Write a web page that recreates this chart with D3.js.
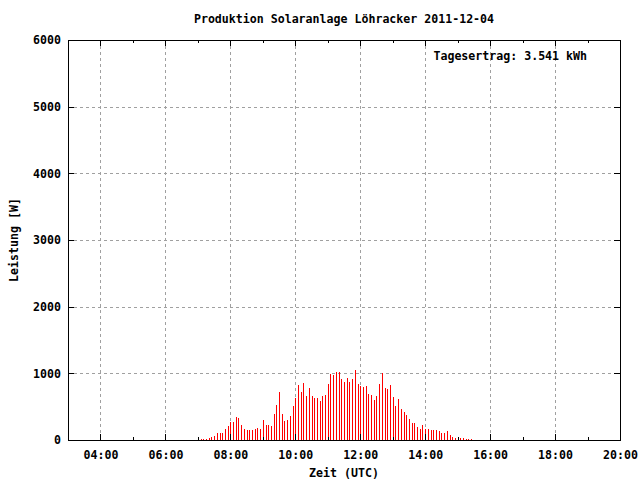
<!DOCTYPE html>
<html><head><meta charset="utf-8">
<script src="https://cdn.jsdelivr.net/npm/d3@7"></script>
<style>body{margin:0;background:#fff}</style>
</head><body>
<script>
// ---------- data ----------
const titleText = "Produktion Solaranlage Löhracker 2011-12-04";
const annotationText = "Tagesertrag: 3.541 kWh";
const xLabelText = "Zeit (UTC)";
const yLabelText = "Leistung [W]";
const day = "2011-12-04";
const firstSample = "07:05";   // time of first 5‑minute sample (UTC)
const stepMinutes = 5;
const power = [
  15, 15, 15, 30, 40, 60, 105, 105, 105, 165,
  210, 270, 270, 345, 330, 225, 165, 150, 150, 150,
  165, 180, 165, 300, 225, 225, 210, 390, 525, 720,
  390, 285, 300, 360, 510, 630, 825, 720, 855, 660,
  780, 660, 630, 630, 585, 660, 675, 840, 990, 975,
  1020, 1020, 915, 870, 930, 870, 915, 1050, 840, 810,
  795, 810, 690, 675, 600, 660, 840, 1005, 780, 765,
  825, 645, 510, 615, 465, 420, 375, 315, 255, 255,
  195, 165, 225, 165, 165, 150, 150, 150, 135, 105,
  105, 135, 75, 45, 30, 30, 30, 30, 15, 15, 15
];
const xDomainHours = ["03:00", "20:00"];
const xMajorTicks = ["04:00","06:00","08:00","10:00","12:00","14:00","16:00","18:00","20:00"];
const xMinorTicks = ["05:00","07:00","09:00","11:00","13:00","15:00","17:00","19:00"];
const yTicks = [0, 1000, 2000, 3000, 4000, 5000, 6000];

// ---------- layout ----------
const W = 640, H = 480;
const L = 68, R = 620, T = 40, B = 440;
const font = "'DejaVu Sans Mono', 'Liberation Mono', monospace";
const fs = 11.6;

const parse = d3.utcParse("%Y-%m-%d %H:%M");
const t = s => parse(day + " " + s);
const t0 = t(firstSample);
const samples = power.map((v, i) => ({ time: d3.utcMinute.offset(t0, i * stepMinutes), value: v }));

const x = d3.scaleUtc().domain(xDomainHours.map(t)).range([L, R]);
const y = d3.scaleLinear().domain([0, 6000]).range([B, T]);

const svg = d3.select("body").append("svg").attr("width", W).attr("height", H)
  .style("font-family", font).style("font-weight", "bold").style("font-size", fs + "px");
svg.append("rect").attr("width", W).attr("height", H).attr("fill", "#fff");

const px = v => Math.round(v) + 0.5;

// grid
const grid = svg.append("g").attr("stroke", "#a0a0a0").attr("stroke-width", 1)
  .attr("stroke-dasharray", "3,3").attr("shape-rendering", "crispEdges");
xMajorTicks.map(t).filter(d => x(d) < R - 1).forEach(d => {
  grid.append("line").attr("x1", px(x(d))).attr("x2", px(x(d))).attr("y1", T).attr("y2", B);
});
yTicks.filter(v => v > 0 && v < 6000).forEach(v => {
  grid.append("line").attr("x1", L).attr("x2", R).attr("y1", px(y(v))).attr("y2", px(y(v)));
});

// impulses
svg.append("g").attr("stroke", "#ff0000").attr("stroke-width", 1).attr("shape-rendering", "crispEdges")
  .selectAll("line").data(samples).join("line")
  .attr("x1", d => px(x(d.time))).attr("x2", d => px(x(d.time)))
  .attr("y1", y(0)).attr("y2", d => Math.round(y(d.value)));

// frame
svg.append("rect").attr("x", L + 0.5).attr("y", T + 0.5).attr("width", R - L).attr("height", B - T)
  .attr("fill", "none").attr("stroke", "#000").attr("shape-rendering", "crispEdges");

// ticks
const tk = svg.append("g").attr("stroke", "#000").attr("shape-rendering", "crispEdges");
const majLen = 6, minLen = 3;
xMajorTicks.map(t).forEach(d => {
  const xx = px(x(d));
  tk.append("line").attr("x1", xx).attr("x2", xx).attr("y1", B).attr("y2", B - majLen);
  tk.append("line").attr("x1", xx).attr("x2", xx).attr("y1", T).attr("y2", T + majLen);
});
xMinorTicks.map(t).forEach(d => {
  const xx = px(x(d));
  tk.append("line").attr("x1", xx).attr("x2", xx).attr("y1", B).attr("y2", B - minLen);
  tk.append("line").attr("x1", xx).attr("x2", xx).attr("y1", T).attr("y2", T + minLen);
});
yTicks.forEach(v => {
  const yy = px(y(v));
  tk.append("line").attr("x1", L).attr("x2", L + majLen).attr("y1", yy).attr("y2", yy);
  tk.append("line").attr("x1", R).attr("x2", R - majLen).attr("y1", yy).attr("y2", yy);
});

// axis labels via d3 axes (ticks hidden, labels only)
const fmt = d3.utcFormat("%H:%M");
const xAxis = d3.axisBottom(x).tickValues(xMajorTicks.map(t)).tickFormat(fmt).tickSize(0).tickPadding(11);
const gx = svg.append("g").attr("transform", `translate(0,${B})`).call(xAxis);
gx.select(".domain").remove();
gx.selectAll("text").attr("fill", "#000").style("font-family", font).style("font-weight", "bold").style("font-size", fs + "px");

const yAxis = d3.axisLeft(y).tickValues(yTicks).tickFormat(d3.format("d")).tickSize(0).tickPadding(7);
const gy = svg.append("g").attr("transform", `translate(${L},0)`).call(yAxis);
gy.select(".domain").remove();
gy.selectAll("text").attr("fill", "#000").style("font-family", font).style("font-weight", "bold").style("font-size", fs + "px");

// titles
svg.append("text").attr("x", 344).attr("y", 23).attr("text-anchor", "middle").text(titleText);
svg.append("text").attr("x", 344).attr("y", 477).attr("text-anchor", "middle").text(xLabelText);
svg.append("text").attr("transform", "translate(18,240) rotate(-90)").attr("text-anchor", "middle").text(yLabelText);
svg.append("text").attr("x", 587).attr("y", 60).attr("text-anchor", "end").text(annotationText);
</script>
</body></html>
